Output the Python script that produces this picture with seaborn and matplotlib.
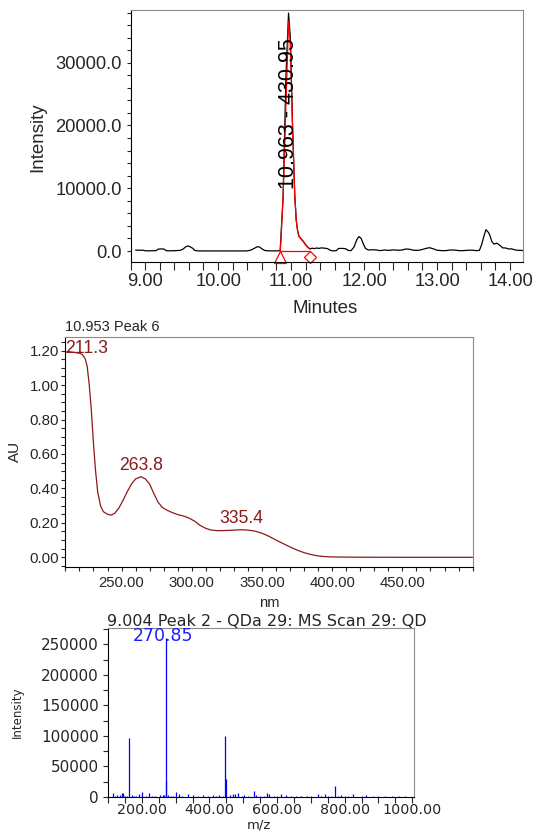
import numpy as np
import matplotlib
matplotlib.use("Agg")
import matplotlib.pyplot as plt
import seaborn as sns

# --- chromatogram (top panel) ---
chrom_time = [8.87, 8.92, 8.97, 9.00, 9.05, 9.10, 9.15, 9.18, 9.22, 9.26, 9.29, 9.35, 9.42, 9.48,
              9.52, 9.56, 9.59, 9.62, 9.65, 9.68, 9.72, 9.80, 9.90, 10.00, 10.10, 10.20, 10.30,
              10.40, 10.45, 10.50, 10.54, 10.57, 10.60, 10.64, 10.70, 10.78, 10.83, 10.85, 10.89,
              10.93, 10.965, 10.99, 11.02, 11.05, 11.07, 11.09, 11.11, 11.14, 11.17, 11.20, 11.23,
              11.26, 11.29, 11.32, 11.35, 11.38, 11.42, 11.46, 11.50, 11.53, 11.57, 11.62, 11.65,
              11.70, 11.75, 11.78, 11.82, 11.86, 11.90, 11.93, 11.96, 11.99, 12.02, 12.06, 12.10,
              12.16, 12.22, 12.28, 12.34, 12.40, 12.46, 12.52, 12.57, 12.62, 12.68, 12.74, 12.80,
              12.86, 12.90, 12.94, 13.00, 13.06, 13.12, 13.18, 13.24, 13.30, 13.36, 13.42, 13.48,
              13.54, 13.58, 13.61, 13.64, 13.67, 13.70, 13.72, 13.75, 13.78, 13.82, 13.86, 13.90,
              13.94, 13.98, 14.02, 14.06, 14.10, 14.14, 14.18]
chrom_intensity = [150, 120, 130, 40, 30, 40, 60, 300, 330, 300, 40, 30, 60, 100,
                   300, 700, 800, 650, 450, 100, 20, 10, 10, 10, 10, 10, 10,
                   20, 150, 450, 700, 620, 350, 80, 20, 20, 30, 50, 8500,
                   28000, 37900, 34000, 20000, 9000, 5000, 3200, 2300, 1900, 1500, 1000, 600,
                   350, 450, 380, 480, 420, 500, 450, 380, 150, 20, 60, 400,
                   420, 350, 100, 50, 600, 1800, 2300, 2000, 1100, 400, 150, 200,
                   180, 60, 160, 100, 180, 120, 150, 320, 280, 120, 100, 250,
                   450, 520, 380, 120, 60, 60, 160, 150, 60, 60, 120, 130,
                   60, 100, 1000, 2300, 3400, 3000, 2600, 1500, 1100, 1250, 900, 500,
                   480, 320, 350, 200, 120, 100, 80]

# integrated peak (red)
peak_time = [10.853, 10.89, 10.965, 10.99, 11.02, 11.05, 11.07, 11.09, 11.11, 11.14, 11.17,
             11.20, 11.23, 11.257]
peak_intensity = [0, 8400, 36600, 33000, 19500, 8800, 4900, 3100, 2250, 1850, 1450,
                  950, 550, 300]
peak_start = 10.853
peak_end = 11.257
peak_rt = 10.963
peak_label = "10.963 - 430.95"

chrom_xticks = [9, 10, 11, 12, 13, 14]
chrom_xticklabels = ["9.00", "10.00", "11.00", "12.00", "13.00", "14.00"]
chrom_yticks = [0, 10000, 20000, 30000]
chrom_yticklabels = ["0.0", "10000.0", "20000.0", "30000.0"]

# --- UV spectrum (middle panel) ---
uv_nm = [210, 212, 214, 216, 218, 220, 222, 224, 225.5, 227, 228.5, 230, 231.5, 233, 235, 237,
         240, 242.5, 245, 248, 251, 254, 257, 260, 263.8, 267, 270, 273, 276, 279, 282, 286,
         290, 294, 298, 302, 306, 310, 314, 318, 322, 328, 335.4, 340, 345, 350, 355, 360,
         365, 370, 375, 380, 385, 390, 395, 400, 420, 450, 500]
uv_au = [1.190, 1.195, 1.192, 1.190, 1.188, 1.185, 1.178, 1.155, 1.11, 1.00, 0.85, 0.66, 0.50,
         0.38, 0.30, 0.265, 0.25, 0.245, 0.255, 0.285, 0.33, 0.38, 0.425, 0.455, 0.468, 0.455,
         0.425, 0.37, 0.32, 0.29, 0.275, 0.26, 0.248, 0.24, 0.228, 0.21, 0.185, 0.168, 0.158,
         0.155, 0.155, 0.157, 0.16, 0.158, 0.152, 0.14, 0.122, 0.10, 0.08, 0.06, 0.042, 0.027,
         0.016, 0.008, 0.004, 0.002, 0.0005, 0.0, 0.0]
uv_peak_nm = [211.3, 263.8, 335.4]
uv_peak_au = [1.195, 0.468, 0.160]
uv_title = "10.953 Peak 6"
uv_xticks = [250, 300, 350, 400, 450]
uv_xticklabels = ["250.00", "300.00", "350.00", "400.00", "450.00"]
uv_yticks = [0.0, 0.2, 0.4, 0.6, 0.8, 1.0, 1.2]
uv_yticklabels = ["0.00", "0.20", "0.40", "0.60", "0.80", "1.00", "1.20"]

# --- mass spectrum (bottom panel) ---
ms_mz = [113.8, 120.5, 128.0, 135.2, 140.4, 144.3, 150.6, 156.0, 162.9, 170.2, 176.5, 183.0,
         190.6, 201.0, 212.0, 221.0, 230.5, 240.2, 253.6, 262.0, 266.5, 270.85, 271.85, 276.0,
         285.0, 292.5, 301.8, 308.7, 320.0, 337.2, 350.5, 365.0, 381.5, 395.0, 411.1, 420.0,
         427.8, 440.0, 446.9, 447.9, 460.0, 470.2, 477.0, 483.0, 495.0, 502.6, 515.0, 530.5,
         539.0, 550.0, 560.0, 570.6, 576.5, 590.0, 600.0, 612.9, 627.7, 640.0, 657.2, 670.0,
         690.0, 700.0, 721.2, 730.0, 740.9, 750.0, 760.0, 772.0, 780.0, 790.1, 800.0, 810.0,
         824.5, 850.0, 864.0, 883.6, 900.0, 918.0, 940.0, 960.0, 977.1]
ms_intensity = [6500, 2000, 3000, 2500, 6000, 6500, 2000, 1500, 97000, 2500, 1800, 2200,
                5400, 7800, 2000, 6000, 1500, 2000, 2800, 2500, 3000, 260000, 26500, 3500,
                2000, 1500, 8200, 5400, 2000, 5400, 2500, 1800, 2800, 2000, 3800, 2200,
                3300, 2000, 100500, 29000, 2500, 4900, 5400, 6000, 1800, 2800, 1500, 10500,
                3800, 2000, 1500, 7200, 4900, 2000, 1500, 4900, 3300, 1800, 2200, 1500,
                2000, 1500, 4400, 1800, 4400, 2000, 1500, 18500, 2000, 2800, 1800, 1500,
                4900, 1500, 2800, 2200, 1500, 1600, 1200, 1000, 1600]
ms_base_peak = 270.85
ms_base_label = "270.85"
ms_title = "9.004 Peak 2 - QDa 29: MS Scan 29: QD"
ms_xticks = [200, 400, 600, 800, 1000]
ms_xticklabels = ["200.00", "400.00", "600.00", "800.00", "1000.00"]
ms_yticks = [0, 50000, 100000, 150000, 200000, 250000]
ms_yticklabels = ["0", "50000", "100000", "150000", "200000", "250000"]

sns.set_theme(style="ticks")
plt.rcParams['font.family'] = ['Liberation Sans', 'DejaVu Sans']

W, H = 533, 833


def box(left, top, right, bottom):
    # pixel box -> figure fraction
    return [left / W, 1 - bottom / H, (right - left) / W, (bottom - top) / H]


def style_spines(ax):
    for side in ['left', 'bottom']:
        ax.spines[side].set_color('black')
        ax.spines[side].set_linewidth(0.8)
    for side in ['top', 'right']:
        ax.spines[side].set_color('#8a8a8a')
        ax.spines[side].set_linewidth(0.8)


fig = plt.figure(figsize=(W / 100, H / 100), dpi=100)
fig.patch.set_facecolor('white')

# 1. chromatogram
ax1 = fig.add_axes(box(130.5, 10, 523, 262.3))
sns.lineplot(x=chrom_time, y=chrom_intensity, ax=ax1, color='black', linewidth=0.9)
sns.lineplot(x=peak_time, y=peak_intensity, ax=ax1, color='red', linewidth=0.9)
ax1.plot([peak_start, peak_end], [0, 0], color='red', linewidth=0.9)
ax1.plot([peak_start], [0.022], transform=ax1.get_xaxis_transform(), marker='^',
         ms=8, mfc='none', mec='red', mew=0.9, clip_on=False)
ax1.plot([peak_end], [0.02], transform=ax1.get_xaxis_transform(), marker='D',
         ms=6.5, mfc='none', mec='red', mew=0.9, clip_on=False)
ax1.text(peak_rt, 0.59, peak_label, transform=ax1.get_xaxis_transform(), rotation=90,
         ha='center', va='center', fontsize=15.5, color='black')
ax1.set_xlim(8.873, 14.177)
ax1.set_ylim(-1800, 38400)
ax1.set_xticks(chrom_xticks, chrom_xticklabels, fontsize=13.2)
ax1.set_yticks(chrom_yticks, chrom_yticklabels, fontsize=13.2)
ax1.set_xticks(np.arange(8.8, 14.2, 0.2), minor=True)
ax1.set_yticks(np.arange(0, 38001, 2000), minor=True)
ax1.tick_params(axis='x', which='both', length=5.4, width=0.8, pad=2.4, direction='out')
ax1.tick_params(axis='y', which='both', length=3.2, width=0.8, pad=3.2, direction='out')
ax1.set_xlabel('')
ax1.set_ylabel('')
style_spines(ax1)
fig.text(37.5 / W, 1 - 136.7 / H, 'Intensity', rotation=90, ha='center', va='center', fontsize=13.5)
fig.text(325.4 / W, 1 - 308.3 / H, 'Minutes', ha='center', va='center', fontsize=13.5)

# 2. UV spectrum
uv_color = '#8b1a1a'
ax2 = fig.add_axes(box(65.4, 336.7, 472.6, 567.3))
sns.lineplot(x=uv_nm, y=uv_au, ax=ax2, color=uv_color, linewidth=0.9)
ax2.set_xlim(210, 500)
ax2.set_ylim(-0.058, 1.281)
for i, (nm, au) in enumerate(zip(uv_peak_nm, uv_peak_au)):
    if i == 0:
        ax2.annotate(f"{nm:.1f}", xy=(210, au), xytext=(0, -1), textcoords='offset points',
                     ha='left', va='baseline', fontsize=12.7, color=uv_color)
    else:
        ax2.annotate(f"{nm:.1f}", xy=(nm, au), xytext=(0, 5), textcoords='offset points',
                     ha='center', va='baseline', fontsize=12.7, color=uv_color)
ax2.set_xticks(uv_xticks, uv_xticklabels, fontsize=10.7)
ax2.set_yticks(uv_yticks, uv_yticklabels, fontsize=10.9)
ax2.set_xticks(np.arange(210, 501, 10), minor=True)
ax2.set_yticks(np.arange(-0.05, 1.26, 0.05), minor=True)
ax2.tick_params(axis='x', which='both', length=3.2, width=0.8, pad=3, direction='out')
ax2.tick_params(axis='y', which='both', length=3.2, width=0.8, pad=1.2, direction='out')
ax2.set_xlabel('')
ax2.set_ylabel('')
style_spines(ax2)
fig.text(64.7 / W, 1 - 327.3 / H, uv_title, ha='left', va='center', fontsize=10.5)
fig.text(15.3 / W, 1 - 451.7 / H, 'AU', rotation=90, ha='center', va='center', fontsize=11)
fig.text(269 / W, 1 - 603.3 / H, 'nm', ha='center', va='center', fontsize=10.6)

# 3. mass spectrum
ms_font = 'DejaVu Sans'
ax3 = fig.add_axes(box(108, 628.3, 414, 797))
ax3.vlines(ms_mz, 0, ms_intensity, color='#0000ff', linewidth=0.9)
ax3.set_xlim(100, 1005)
ax3.set_ylim(0, 276250)
base_int = ms_intensity[ms_mz.index(ms_base_peak)]
ax3.annotate(ms_base_label, xy=(ms_base_peak, base_int), xytext=(-2, 1.5),
             textcoords='offset points', ha='center', va='center', fontsize=12.5,
             color='#1e1eff', family=ms_font)
ax3.set_xticks(ms_xticks, ms_xticklabels, fontsize=10.3, fontfamily=ms_font)
ax3.set_yticks(ms_yticks, ms_yticklabels, fontsize=11, fontfamily=ms_font)
ax3.set_xticks(np.arange(100, 1001, 50), minor=True)
ax3.set_yticks(np.arange(0, 275001, 25000), minor=True)
ax3.tick_params(axis='x', which='both', length=4, width=0.8, pad=0.5, direction='out')
ax3.tick_params(axis='y', which='both', length=3.4, width=0.8, pad=3.2, direction='out')
style_spines(ax3)
fig.text(107.3 / W, 1 - 621.3 / H, ms_title, ha='left', va='center', fontsize=11.5, family=ms_font)
fig.text(17 / W, 1 - 711.7 / H, 'Intensity', rotation=90, ha='center', va='center',
         fontsize=8.5, family=ms_font)
fig.text(259 / W, 1 - 825 / H, 'm/z', ha='center', va='center', fontsize=9.5, family=ms_font)

fig.savefig('out.png', dpi=100, facecolor='white')
